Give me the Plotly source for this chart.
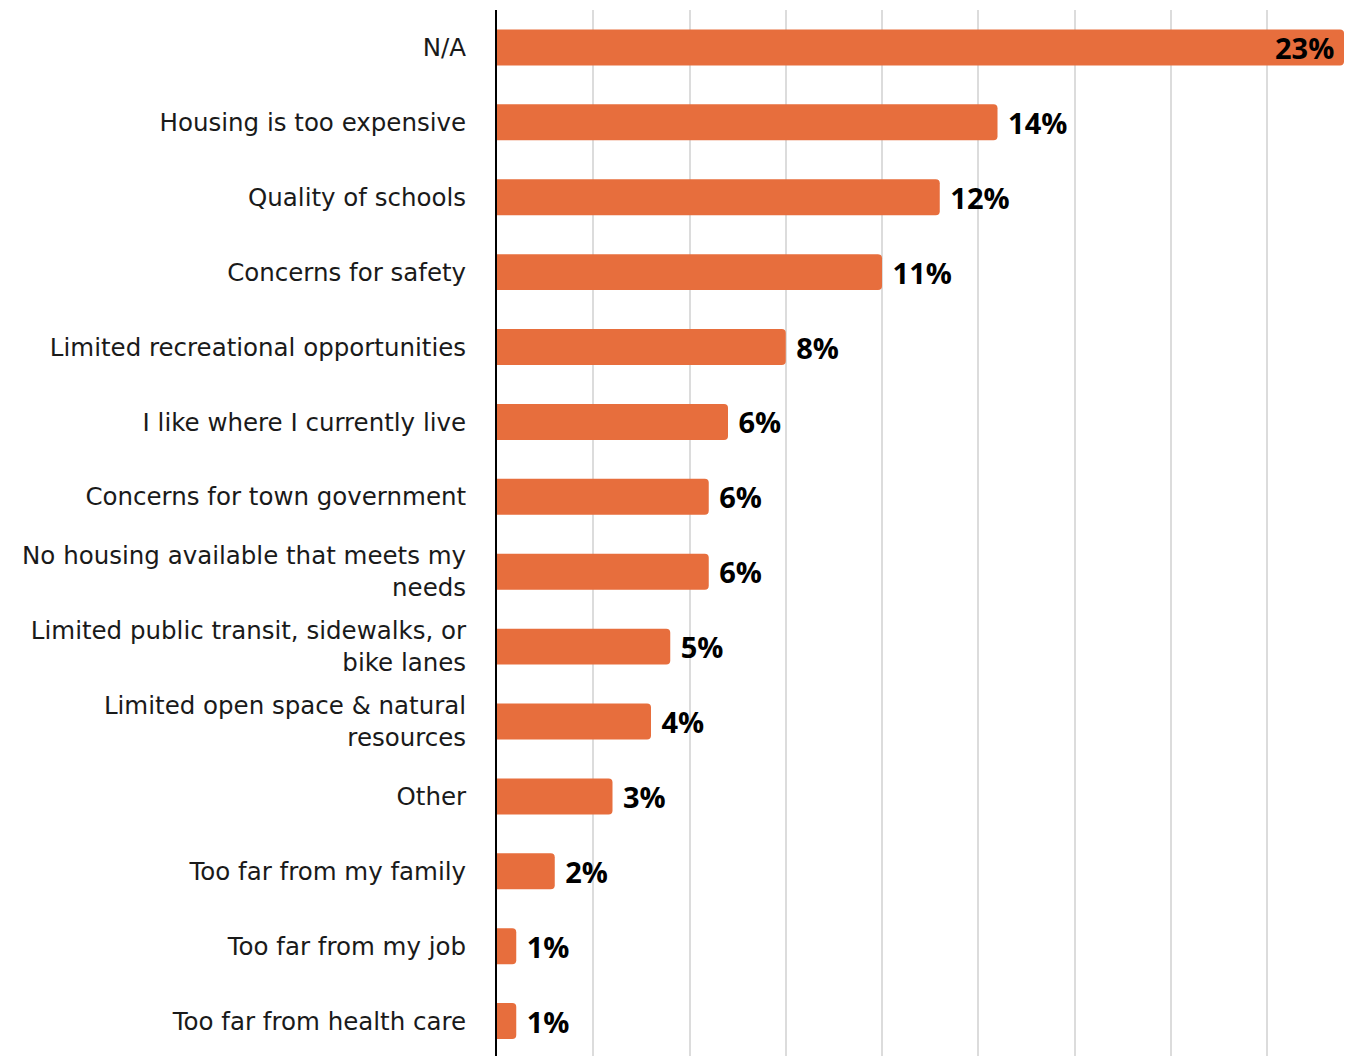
import plotly.graph_objects as go

categories = [
    "N/A",
    "Housing is too expensive",
    "Quality of schools",
    "Concerns for safety",
    "Limited recreational opportunities",
    "I like where I currently live",
    "Concerns for town government",
    "No housing available that meets my<br>needs",
    "Limited public transit, sidewalks, or<br>bike lanes",
    "Limited open space & natural<br>resources",
    "Other",
    "Too far from my family",
    "Too far from my job",
    "Too far from health care",
]
# response counts
counts = [88, 52, 46, 40, 30, 24, 22, 22, 18, 16, 12, 6, 2, 2]
labels = ["23%", "14%", "12%", "11%", "8%", "6%", "6%", "6%", "5%", "4%", "3%", "2%", "1%", "1%"]

value_font = dict(family="Open Sans", size=29, color="#000000", weight="bold")

# first (longest) bar gets its label inside via an annotation; others outside
positions = ["none"] + ["outside"] * (len(counts) - 1)
texts = [""] + ["\u00a0" + t for t in labels[1:]]

fig = go.Figure(
    go.Bar(
        x=counts,
        y=categories,
        orientation="h",
        marker=dict(color="#E76E3D", cornerradius=4, line=dict(width=0)),
        text=texts,
        textposition=positions,
        constraintext="none",
        textfont=value_font,
        cliponaxis=False,
        hoverinfo="skip",
    )
)

fig.add_annotation(
    x=counts[0],
    y=categories[0],
    xref="x",
    yref="y",
    text=labels[0],
    showarrow=False,
    xanchor="right",
    yanchor="middle",
    xshift=-8,
    font=value_font,
)

fig.update_layout(
    width=1344,
    height=1048,
    margin=dict(l=489, r=0, t=2, b=0),
    paper_bgcolor="white",
    plot_bgcolor="white",
    bargap=0.52,
    showlegend=False,
    font=dict(family="DejaVu Sans", size=24.5, color="#1a1a1a"),
)
fig.update_xaxes(
    range=[0, 88.83],
    dtick=10,
    showgrid=True,
    gridcolor="#dcdcdc",
    gridwidth=2,
    showticklabels=False,
    zeroline=False,
    showline=False,
)
fig.update_yaxes(
    type="category",
    range=[13.466, -0.5],
    showline=True,
    linecolor="#000000",
    linewidth=2,
    ticks="",
    ticklabelstandoff=24,
    showgrid=False,
    tickfont=dict(family="DejaVu Sans", size=24.5, color="#1a1a1a"),
)

fig.write_html("out.html")
